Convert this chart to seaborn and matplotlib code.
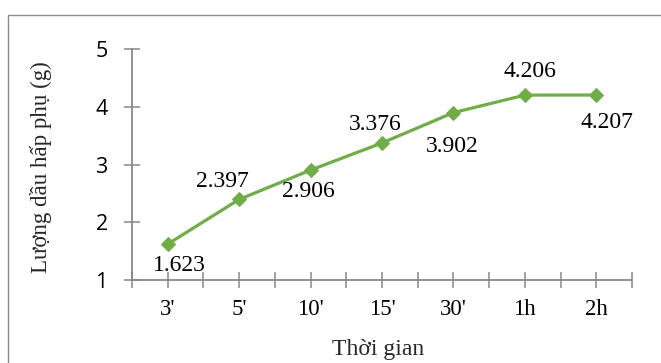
import matplotlib
matplotlib.use("Agg")
import matplotlib.pyplot as plt
import seaborn as sns
import pandas as pd
from matplotlib.patches import Rectangle
from matplotlib.ticker import FixedLocator

times = ["3'", "5'", "10'", "15'", "30'", "1h", "2h"]
values = [1.623, 2.397, 2.906, 3.376, 3.902, 4.206, 4.207]
value_labels = ["1.623", "2.397", "2.906", "3.376", "3.902", "4.206", "4.207"]
y_ticks = [1, 2, 3, 4, 5]
x_title = "Thời gian"
y_title = "Lượng dầu hấp phụ (g)"

df = pd.DataFrame({"time": times, "value": values})

sns.set_style("white")
plt.rcParams["font.family"] = ["Liberation Serif", "DejaVu Serif"]

W, H = 661, 363
fig = plt.figure(figsize=(W / 100, H / 100), dpi=100)
ax = fig.add_axes([132 / W, 1 - 280 / H, 500 / W, (280 - 49.3) / H])

green = "#70AD47"
sns.lineplot(data=df, x="time", y="value", sort=False, ax=ax, color=green,
             linewidth=2.3, marker="D", markersize=7, markeredgecolor=green,
             markerfacecolor=green)

ax.set_xlim(-0.5, len(times) - 0.5)
ax.set_ylim(1, 5)
ax.set_yticks(y_ticks)
ax.set_yticklabels([str(t) for t in y_ticks], family=["Open Sans", "DejaVu Sans"], fontsize=15.5)
ax.set_xticks(range(len(times)))
ax.set_xticklabels(times, fontsize=16.5, family=["Liberation Serif", "DejaVu Serif"])
ax.xaxis.set_minor_locator(FixedLocator([i - 0.5 for i in range(len(times) + 1)]))

axis_gray = "#888888"
for side in ["top", "right"]:
    ax.spines[side].set_visible(False)
for side in ["left", "bottom"]:
    ax.spines[side].set_color(axis_gray)
    ax.spines[side].set_linewidth(1.3)
ax.tick_params(axis="both", which="both", direction="inout", length=11,
               width=1.1, color=axis_gray, bottom=True, left=True,
               top=False, right=False)
ax.tick_params(axis="y", pad=12, labelcolor="black")
ax.tick_params(axis="x", pad=8, labelcolor="black")
ax.grid(False)
ax.set_xlabel("")
ax.set_ylabel("")
ax.patch.set_alpha(0)

# data labels (offsets in pixels -> points)
offsets = [(12, 21), (-17, -18), (-2, 21), (-7, -18), (-1, 34), (5, -24), (11, 27)]
for i, (lab, (dx, dy)) in enumerate(zip(value_labels, offsets)):
    ax.annotate(lab, (i, values[i]), xytext=(dx * 0.72, -dy * 0.72),
                textcoords="offset points", ha="center", va="center",
                fontsize=17, color="black",
                family=["Liberation Serif", "DejaVu Serif"])

fig.text(378 / W, 1 - 349 / H, x_title, ha="center", va="center", fontsize=17,
         family=["Liberation Serif", "DejaVu Serif"])
fig.text(41 / W, 1 - 167.5 / H, y_title, ha="center", va="center",
         rotation=90, fontsize=16.5, family=["Liberation Serif", "DejaVu Serif"])

# chart frame
fig.patches.append(Rectangle((7.5 / W, -0.1), 1.2, 1 - 14.5 / H + 0.1,
                             transform=fig.transFigure, fill=False,
                             edgecolor="#8c8c8c", linewidth=1.0))

fig.savefig("out.png", dpi=100)
